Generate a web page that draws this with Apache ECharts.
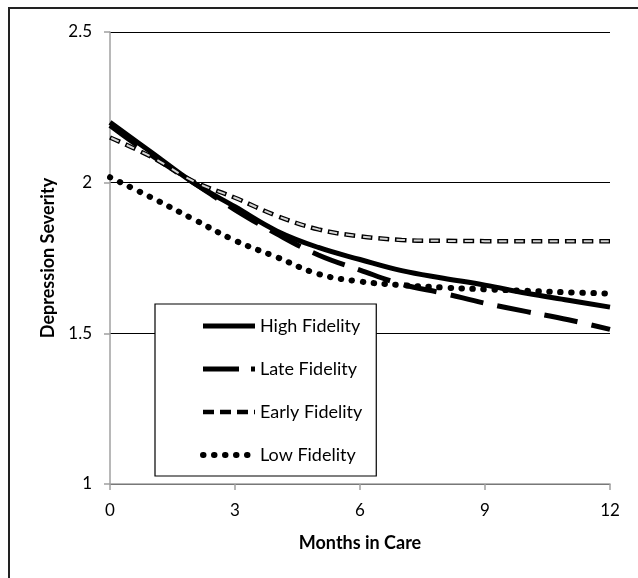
<!DOCTYPE html>
<html>
<head>
<meta charset="utf-8">
<script src="https://cdn.jsdelivr.net/npm/echarts@6/dist/echarts.min.js"></script>
<style>html,body{margin:0;padding:0;background:#fff}#c{width:638px;height:578px}</style>
</head>
<body>
<div id="c"></div>
<script>
const months = [0,1,2,3,4,5,6,7,8,9,10,11,12];
const highFidelity  = [2.20, 2.10, 2.00, 1.92, 1.84, 1.785, 1.745, 1.708, 1.683, 1.66, 1.633, 1.61, 1.587];
const lateFidelity  = [2.19, 2.09, 2.00, 1.91, 1.83, 1.76, 1.71, 1.663, 1.633, 1.60, 1.572, 1.545, 1.513];
const earlyFidelity = [2.15, 2.085, 2.005, 1.95, 1.89, 1.845, 1.822, 1.81, 1.807, 1.806, 1.806, 1.806, 1.806];
const lowFidelity   = [2.018, 1.95, 1.879, 1.808, 1.753, 1.697, 1.672, 1.66, 1.652, 1.646, 1.641, 1.636, 1.632];
const xTicks = [0,3,6,9,12];
const yTicks = [1,1.5,2,2.5];

const pairs = arr => months.map((m,i)=>[m, arr[i]]);
const FONT = 'Lato';
const noSym = {opacity:0, color:'transparent', borderWidth:0};

const chart = echarts.init(document.getElementById('c'), null, {renderer:'canvas'});
chart.setOption({
  animation:false,
  backgroundColor:'#fff',
  textStyle:{fontFamily:FONT},
  grid:{left:110, right:28, top:32, bottom:94},
  xAxis:{
    type:'value', min:xTicks[0], max:xTicks[xTicks.length-1], interval:3,
    name:'Months in Care', nameLocation:'middle', nameGap:50,
    nameTextStyle:{fontFamily:FONT, fontWeight:'bold', fontSize:18, color:'#000'},
    axisLine:{show:true, lineStyle:{color:'#a0a0a0', width:1.5}},
    axisTick:{show:true, length:6, lineStyle:{color:'#a0a0a0', width:1.5}},
    axisLabel:{fontSize:17, color:'#000', margin:18, fontFamily:FONT},
    splitLine:{show:false}
  },
  yAxis:{
    type:'value', min:yTicks[0], max:yTicks[yTicks.length-1], interval:0.5,
    name:'Depression Severity', nameLocation:'middle', nameGap:53,
    nameTextStyle:{fontFamily:FONT, fontWeight:'bold', fontSize:18, color:'#000'},
    axisLine:{show:true, lineStyle:{color:'#a0a0a0', width:1.5}},
    axisTick:{show:true, length:6, lineStyle:{color:'#a0a0a0', width:1.5}},
    axisLabel:{fontSize:17, color:'#000', margin:18, fontFamily:FONT},
    splitLine:{show:true, lineStyle:{color:'#000', width:1.2}}
  },
  legend:{
    data:[
      {name:'High Fidelity', itemStyle:noSym, lineStyle:{color:'#000', width:5, type:'solid'}},
      {name:'Late Fidelity', itemStyle:noSym, lineStyle:{color:'#000', width:5, type:[36,12], cap:'butt'}},
      {name:'Early Fidelity', itemStyle:noSym, lineStyle:{color:'#000', width:4.5, type:[11,6], cap:'butt'}},
      {name:'Low Fidelity', itemStyle:noSym, lineStyle:{color:'#000', width:6, type:[0.5,10.5], cap:'round'}}
    ],
    orient:'vertical', left:155, top:304,
    itemWidth:52, itemHeight:16, itemGap:25,
    padding:[13,14,12,45],
    backgroundColor:'#fff', borderColor:'#000', borderWidth:1.2,
    itemStyle:noSym,
    textStyle:{fontFamily:FONT, fontSize:18, color:'#000'}
  },
  graphic:[{
    type:'polyline', silent:true,
    shape:{points:[[9,578],[9,8],[638,8]]},
    style:{stroke:'#222', lineWidth:2, fill:null}
  }],
  series:[
    {name:'High Fidelity', type:'line', data:pairs(highFidelity), smooth:0.4, symbol:'none',
     itemStyle:{color:'#000'}, lineStyle:{color:'#000', width:5, type:'solid'}, z:3},
    {name:'Late Fidelity', type:'line', data:pairs(lateFidelity), smooth:0.4, symbol:'none',
     itemStyle:{color:'#000'}, lineStyle:{color:'#000', width:5, type:[34,14], cap:'butt'}, z:4},
    {name:'Early Fidelity', type:'line', data:pairs(earlyFidelity), smooth:0.4, symbol:'none',
     itemStyle:{color:'#000'}, lineStyle:{color:'#000', width:4.5, type:[11,6], cap:'butt'}, z:5},
    {name:'Early Fidelity inner', type:'line', data:pairs(earlyFidelity), smooth:0.4, symbol:'none',
     itemStyle:{color:'#d4d4d4'}, lineStyle:{color:'#d4d4d4', width:2, type:[8,9], dashOffset:-1.5, cap:'butt'}, z:6},
    {name:'Low Fidelity', type:'line', data:pairs(lowFidelity), smooth:0.4, symbol:'none',
     itemStyle:{color:'#000'}, lineStyle:{color:'#000', width:6, type:[0.5,10.5], cap:'round'}, z:7}
  ]
});
</script>
</body>
</html>
